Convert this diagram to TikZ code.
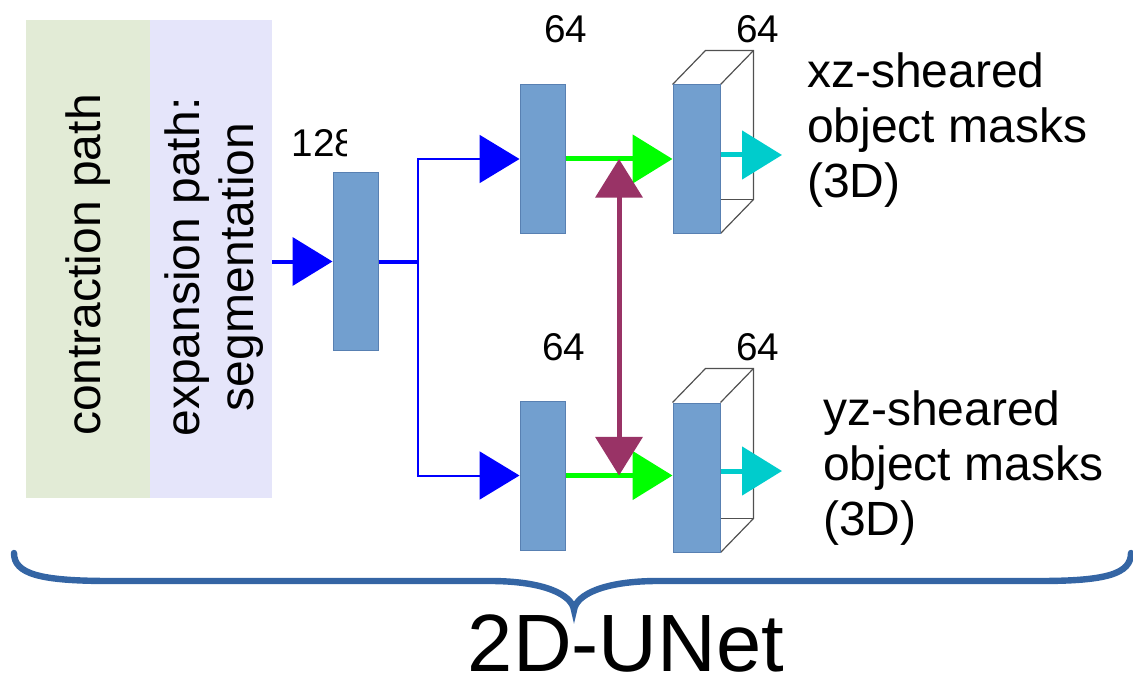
\documentclass[tikz,border=0pt]{standalone}
\usepackage{fontspec}
\setmainfont{Liberation Sans}
\usetikzlibrary{arrows.meta,calc,backgrounds}

\definecolor{panelgreen}{RGB}{226,235,214}
\definecolor{panellav}{RGB}{229,229,250}
\definecolor{blockfill}{RGB}{114,159,207}
\definecolor{blockedge}{RGB}{88,128,178}
\definecolor{flowblue}{RGB}{0,0,255}
\definecolor{flowgreen}{RGB}{0,255,0}
\definecolor{flowcyan}{RGB}{0,204,204}
\definecolor{linkmaroon}{RGB}{153,51,102}
\definecolor{bracecol}{RGB}{52,101,164}
\definecolor{boxedge}{RGB}{80,80,80}

\begin{document}
\begin{tikzpicture}[x=0.75pt,y=-0.75pt,
  panel/.style={draw=none, inner sep=0, minimum height=358.5pt},
  block/.style={draw=blockedge, fill=blockfill, line width=0.75pt, inner sep=0, minimum width=33.75pt},
  bigtext/.style={font=\fontsize{36}{41}\selectfont, inner sep=0},
  numtext/.style={font=\fontsize{29}{33}\selectfont, inner sep=0},
  headtip/.style={-{Triangle[length=30pt 0, width=36pt 0]}},
  boxline/.style={draw=boxedge, line width=0.9pt},
  line join=miter
]
\useasboundingbox (0,0) rectangle (1133,685);

% side panels
\node[panel, fill=panelgreen, minimum width=93pt] (contr) at (88,259) {};
\node[panel, fill=panellav, minimum width=91.5pt] (expan) at (211,259) {};
\node[bigtext, rotate=90] (contrtext) at (contr.center |- 0,265) {contraction path};
\node[bigtext, rotate=90, align=center] (expantext) at (214,267) {expansion path:\\segmentation};

% feature blocks
\node[block, minimum height=132.75pt] (b128) at (355.5,261.5) {};
\node[block, minimum height=111pt] (xa) at (542.5,159) {};
\node[block, minimum height=111pt, minimum width=35.25pt] (xb) at (696.5,159) {};
\node[block, minimum height=111.75pt] (ya) at (542.5,475.5) {};
\node[block, minimum height=111.75pt, minimum width=35.25pt] (yb) at (696.5,477.5) {};

% 3D volumes behind the output blocks
\begin{pgfonlayer}{background}
  \foreach \b in {xb,yb}{
    \draw[boxline] (\b.north west) -- ++(33,-34) -- ($(\b.north east)+(33,-34)$)
      -- ($(\b.south east)+(33,-34)$) -- (\b.south east);
    \draw[boxline] (\b.north east) -- ++(33,-34);
    \draw[boxline] ($(\b.south west)+(33,-34)$) -- ($(\b.south east)+(33,-34)$);
  }
\end{pgfonlayer}

% channel counts
\begin{scope}
  \clip (280,110) rectangle (346,175);
  \node[numtext] (n128) at (324,143) {128};
\end{scope}
\node[numtext] (nxa) at (566,29) {64};
\node[numtext] (nxb) at (758,29) {64};
\node[numtext] (nya) at (564,347) {64};
\node[numtext] (nyb) at (758,347) {64};

% blue input and split
\coordinate (split) at ($(b128.east)+(39,0)$);
\draw[flowblue, line width=3pt, headtip] (b128.west -| expan.east) -- (b128.west);
\draw[flowblue, line width=3pt] (b128.east) -- (split);
\draw[flowblue, line width=1.5pt, headtip] (split) |- (xa.west);
\draw[flowblue, line width=1.5pt, headtip] (split) |- (ya.west);

% green connections
\draw[flowgreen, line width=3.75pt, headtip] (xa.east) -- (xb.west);
\draw[flowgreen, line width=3.75pt, headtip] (ya.east) -- (ya.east -| yb.west);

% maroon coupling
\coordinate (xmid) at ($(xa.east)!0.5!(xb.west)$);
\coordinate (ymid) at ($(ya.east)!0.5!(ya.east -| yb.west)$);
\draw[linkmaroon, line width=3.75pt, {Triangle[length=29pt 0, width=35pt 0]}-{Triangle[length=29pt 0, width=35pt 0]}] (xmid) -- (ymid);

% cyan outputs
\coordinate (xzout) at (782,155);
\coordinate (yzout) at (782,471);
\draw[flowcyan, line width=3.75pt, headtip] (xb.east |- xzout) -- (xzout);
\draw[flowcyan, line width=3.75pt, headtip] (yb.east |- yzout) -- (yzout);

% output descriptions
\node[bigtext, anchor=west, align=left] (xztext) at (807,130) {xz-sheared\\object masks\\(3D)};
\node[bigtext, anchor=west, align=left] (yztext) at (823,468) {yz-sheared\\object masks\\(3D)};

% brace and title
\draw[bracecol, line width=4.8pt, line cap=round]
  (14,553) .. controls (14,574) and (40,581) .. (110,581) -- (490,581)
  .. controls (545,581) and (572,595) .. (574,610)
  .. controls (576,595) and (603,581) .. (658,581) -- (1040,581)
  .. controls (1106,581) and (1131,574) .. (1131,553);
\node[font=\fontsize{61}{70}\selectfont, inner sep=0] (title) at (626,643) {2D-UNet};
\end{tikzpicture}
\end{document}
